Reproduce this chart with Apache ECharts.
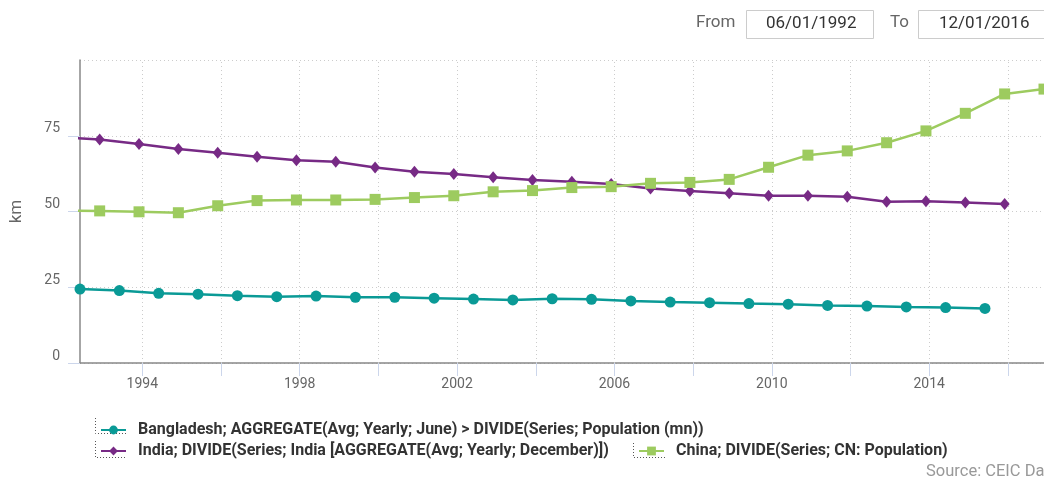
<!DOCTYPE html>
<html>
<head>
<meta charset="utf-8">
<script src="https://cdn.jsdelivr.net/npm/echarts@6/dist/echarts.min.js"></script>
<style>
  html, body { margin: 0; padding: 0; background: #fff; }
  #chart { width: 1044px; height: 481px; }
</style>
</head>
<body>
<div id="chart"></div>
<script>
// Bangladesh: June readings, 1992-2015
const bangladeshDates = ['1992-06-01','1993-06-01','1994-06-01','1995-06-01','1996-06-01','1997-06-01',
  '1998-06-01','1999-06-01','2000-06-01','2001-06-01','2002-06-01','2003-06-01','2004-06-01','2005-06-01',
  '2006-06-01','2007-06-01','2008-06-01','2009-06-01','2010-06-01','2011-06-01','2012-06-01','2013-06-01',
  '2014-06-01','2015-06-01'];
const bangladeshValues = [24.4, 23.9, 23.0, 22.7, 22.2, 21.9, 22.1, 21.7, 21.7, 21.4, 21.1, 20.8,
  21.2, 21.0, 20.5, 20.1, 19.9, 19.6, 19.4, 19.0, 18.8, 18.5, 18.3, 18.0];

// India: December readings, 1991-2015
const indiaDates = ['1991-12-01','1992-12-01','1993-12-01','1994-12-01','1995-12-01','1996-12-01',
  '1997-12-01','1998-12-01','1999-12-01','2000-12-01','2001-12-01','2002-12-01','2003-12-01','2004-12-01',
  '2005-12-01','2006-12-01','2007-12-01','2008-12-01','2009-12-01','2010-12-01','2011-12-01','2012-12-01',
  '2013-12-01','2014-12-01','2015-12-01'];
const indiaValues = [74.5, 73.8, 72.3, 70.6, 69.4, 68.1, 66.9, 66.4, 64.5, 63.1, 62.4, 61.3, 60.4,
  59.8, 59.1, 57.6, 56.8, 56.0, 55.2, 55.2, 54.9, 53.2, 53.4, 53.0, 52.5];

// China: December readings, 1991-2016
const chinaDates = ['1991-12-01','1992-12-01','1993-12-01','1994-12-01','1995-12-01','1996-12-01',
  '1997-12-01','1998-12-01','1999-12-01','2000-12-01','2001-12-01','2002-12-01','2003-12-01','2004-12-01',
  '2005-12-01','2006-12-01','2007-12-01','2008-12-01','2009-12-01','2010-12-01','2011-12-01','2012-12-01',
  '2013-12-01','2014-12-01','2015-12-01','2016-12-01'];
const chinaValues = [50.3, 50.2, 49.9, 49.6, 51.9, 53.6, 53.8, 53.8, 54.0, 54.6, 55.2, 56.5, 56.9,
  57.9, 58.2, 59.3, 59.6, 60.6, 64.6, 68.6, 70.0, 72.7, 76.6, 82.4, 88.8, 90.4];

// Axis ticks (years) and the displayed date range
const xTickYears = [1994, 1996, 1998, 2000, 2002, 2004, 2006, 2008, 2010, 2012, 2014, 2016];
const xLabelYears = [1994, 1998, 2002, 2006, 2010, 2014];
const rangeFromDate = '1992-06-01';
const rangeToDate = '2016-12-01';
const rangeFrom = '06/01/1992';
const rangeTo = '12/01/2016';

const seriesNames = [
  'Bangladesh; AGGREGATE(Avg; Yearly; June) > DIVIDE(Series; Population (mn))',
  'India; DIVIDE(Series; India [AGGREGATE(Avg; Yearly; December)])',
  'China; DIVIDE(Series; CN: Population)'
];
const colors = ['#0a9a96', '#772a85', '#9dcb5f'];

// 'YYYY-MM-DD' -> fractional year for the continuous x axis
function toYear(s) {
  const [y, m, d] = s.split('-').map(Number);
  return y + (m - 1) / 12 + (d - 1) / 365;
}
const zip = (d, v) => d.map((x, i) => [toYear(x), v[i]]);

const FONT = 'Roboto';
const legendText = { fontFamily: FONT, fontSize: 16, fontWeight: 'bold', color: '#333', padding: [0, 0, 0, 7] };
const legendBase = { itemWidth: 25, itemHeight: 11, textStyle: legendText, selectedMode: false, padding: 0 };
const dotted = { stroke: '#555', lineWidth: 1, lineDash: [1, 2], fill: null };

const chart = echarts.init(document.getElementById('chart'), null, { renderer: 'canvas' });
chart.setOption({
  animation: false,
  color: colors,
  textStyle: { fontFamily: FONT },
  grid: { left: 80, right: 0, top: 60, bottom: 118, containLabel: false, outerBoundsMode: 'none' },
  legend: [
    Object.assign({ data: [seriesNames[0]], left: 100, top: 422 }, legendBase),
    Object.assign({ data: [seriesNames[1]], left: 100, top: 443 }, legendBase),
    Object.assign({ data: [seriesNames[2]], left: 638, top: 443 }, legendBase)
  ],
  xAxis: {
    type: 'value',
    min: toYear(rangeFromDate),
    max: toYear(rangeToDate),
    axisLine: { lineStyle: { color: '#888', width: 1.5 } },
    axisTick: { customValues: xTickYears, length: 13, lineStyle: { color: '#ccd6eb', width: 1 } },
    axisLabel: {
      customValues: xLabelYears,
      formatter: v => String(Math.round(v)),
      color: '#666', fontSize: 14, margin: 14, fontFamily: FONT
    },
    splitLine: { show: false }
  },
  yAxis: {
    type: 'value',
    min: 0, max: 100, interval: 25,
    name: 'km', nameLocation: 'middle', nameGap: 55,
    nameTextStyle: { color: '#666', fontSize: 17, fontFamily: FONT },
    axisLine: { show: true, lineStyle: { color: '#888', width: 1.5 } },
    axisTick: { show: true, length: 12, lineStyle: { color: '#ccd6eb' } },
    axisLabel: { color: '#666', fontSize: 14, margin: 20, verticalAlign: 'bottom', showMaxLabel: false, fontFamily: FONT },
    splitLine: { show: true, lineStyle: { color: '#ccc', type: [1, 3] } }
  },
  series: [
    { name: seriesNames[0], type: 'line', data: zip(bangladeshDates, bangladeshValues),
      symbol: 'circle', symbolSize: 11, lineStyle: { width: 2.5 }, clip: true, z: 3,
      // vertical dotted grid at every tick year
      markLine: {
        silent: true, symbol: 'none', z: 1, animation: false,
        label: { show: false },
        lineStyle: { color: '#ccc', type: [1, 3], width: 1 },
        emphasis: { disabled: true },
        data: xTickYears.map(y => ({ xAxis: y }))
      } },
    { name: seriesNames[1], type: 'line', data: zip(indiaDates, indiaValues),
      symbol: 'diamond', symbolSize: [10, 12], lineStyle: { width: 2.5 }, clip: true, z: 3 },
    { name: seriesNames[2], type: 'line', data: zip(chinaDates, chinaValues),
      symbol: 'rect', symbolSize: 11, lineStyle: { width: 2.5 }, clip: true, z: 3 }
  ],
  graphic: [
    // date range controls
    { type: 'text', x: 696, y: 23, style: { text: 'From', fill: '#666', font: '17px Roboto', textVerticalAlign: 'middle', verticalAlign: 'middle' } },
    { type: 'rect', shape: { x: 746.5, y: 10.5, width: 127, height: 28 }, style: { fill: '#fff', stroke: '#ccc' } },
    { type: 'text', x: 766, y: 24, style: { text: rangeFrom, fill: '#333', font: '17px Roboto', textVerticalAlign: 'middle', verticalAlign: 'middle' } },
    { type: 'text', x: 890, y: 23, style: { text: 'To', fill: '#666', font: '17px Roboto', textVerticalAlign: 'middle', verticalAlign: 'middle' } },
    { type: 'rect', shape: { x: 918.5, y: 10.5, width: 140, height: 28 }, style: { fill: '#fff', stroke: '#ccc' } },
    { type: 'text', x: 939, y: 24, style: { text: rangeTo, fill: '#333', font: '17px Roboto', textVerticalAlign: 'middle', verticalAlign: 'middle' } },
    // legend focus brackets
    { type: 'polyline', shape: { points: [[95.5, 418], [95.5, 433.5], [127, 433.5]] }, style: dotted },
    { type: 'polyline', shape: { points: [[95.5, 441], [95.5, 457.5], [127, 457.5]] }, style: dotted },
    { type: 'polyline', shape: { points: [[633.5, 443], [633.5, 457.5], [665, 457.5]] }, style: dotted },
    // source note
    { type: 'text', x: 926, y: 472, style: { text: 'Source: CEIC Data', fill: '#999', font: '16.5px Roboto', textVerticalAlign: 'middle', verticalAlign: 'middle' } }
  ]
});
</script>
</body>
</html>
